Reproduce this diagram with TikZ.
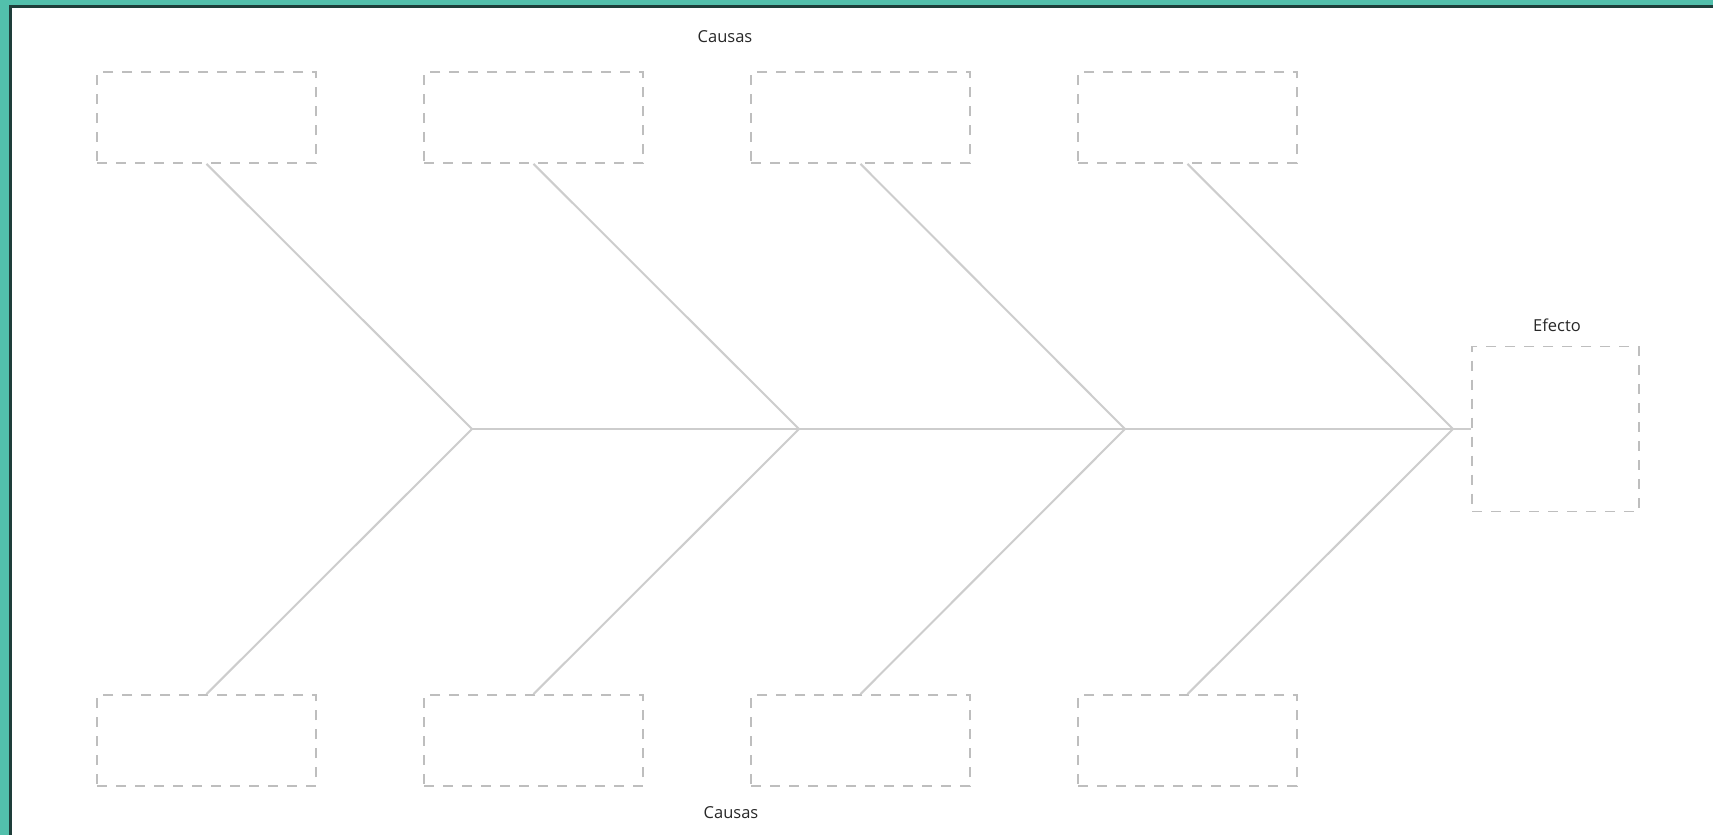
\documentclass[tikz,border=0pt]{standalone}
\usepackage{fontspec}
\setmainfont{Open Sans}
\definecolor{frameteal}{RGB}{82,192,172}
\definecolor{framedark}{RGB}{30,62,58}
\definecolor{bonegray}{RGB}{205,205,205}
\definecolor{boxgray}{RGB}{190,190,190}
\definecolor{txtgray}{RGB}{40,40,40}
\begin{document}
\begin{tikzpicture}[x=1pt,y=-1pt,
  causebox/.style={draw=boxgray, line width=1.8pt, dash pattern=on 10pt off 9pt,
    minimum width=219pt, minimum height=91pt, inner sep=0pt},
  effectbox/.style={draw=boxgray, line width=1.8pt, dash pattern=on 10pt off 9pt,
    minimum width=167pt, minimum height=165pt, inner sep=0pt},
  bone/.style={draw=bonegray, line width=2pt},
  lbl/.style={text=txtgray, font=\fontsize{16.5}{18}\selectfont, inner sep=0pt}]
\useasboundingbox (0,0) rectangle (1713,835);
\fill[white] (0,0) rectangle (1713,835);
% frame
\fill[frameteal] (0,0) rectangle (1713,5);
\fill[frameteal] (0,0) rectangle (9,835);
\fill[framedark] (9,5) rectangle (1713,8);
\fill[framedark] (9,5) rectangle (12,835);
% cause boxes top
\node[causebox] (t1) at (206.5,117.5) {};
\node[causebox] (t2) at (533.5,117.5) {};
\node[causebox] (t3) at (860.5,117.5) {};
\node[causebox] (t4) at (1187.5,117.5) {};
% cause boxes bottom
\node[causebox] (b1) at (206.5,740.5) {};
\node[causebox] (b2) at (533.5,740.5) {};
\node[causebox] (b3) at (860.5,740.5) {};
\node[causebox] (b4) at (1187.5,740.5) {};
% effect box
\node[effectbox] (eff) at (1555.5,429) {};
% junctions
\coordinate (j1) at (472,429);
\coordinate (j2) at (799,429);
\coordinate (j3) at (1125,429);
\coordinate (j4) at (1453,429);
% bones
\draw[bone] (j1) -- (eff.west);
\draw[bone] (t1.south) -- (j1) -- (b1.north);
\draw[bone] (t2.south) -- (j2) -- (b2.north);
\draw[bone] (t3.south) -- (j3) -- (b3.north);
\draw[bone] (t4.south) -- (j4) -- (b4.north);
% labels
\node[lbl] (ctop) at (725,37) {Causas};
\node[lbl] (cbot) at (731,813) {Causas};
\node[lbl] (efl) at (1557,325) {Efecto};
\end{tikzpicture}
\end{document}
